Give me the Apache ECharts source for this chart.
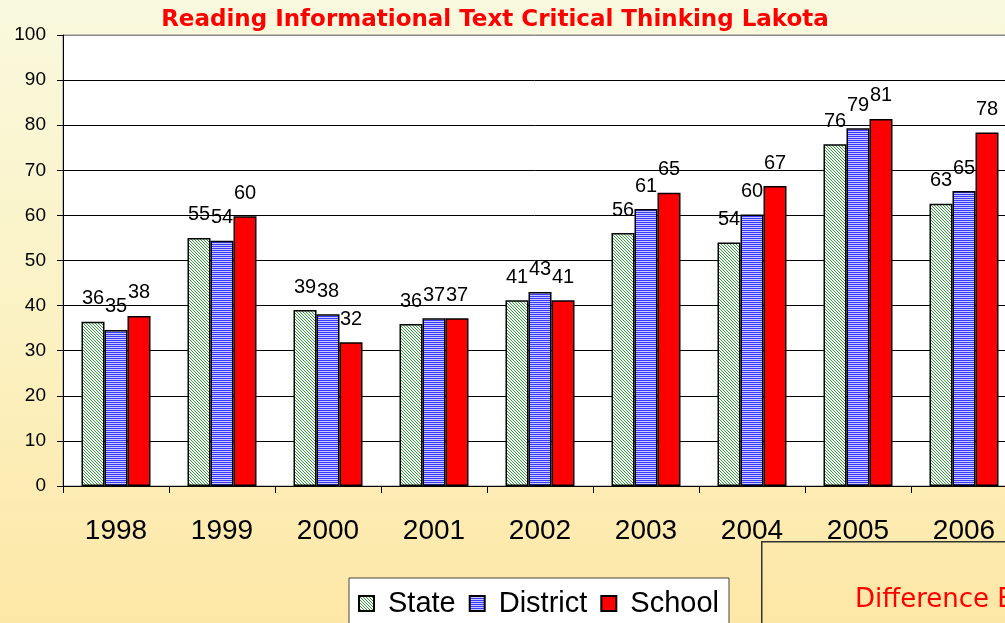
<!DOCTYPE html>
<html>
<head>
<meta charset="utf-8">
<script src="https://cdn.jsdelivr.net/npm/echarts@6/dist/echarts.min.js"></script>
<style>
html,body{margin:0;padding:0;}
#chart{width:1005px;height:623px;background:linear-gradient(to bottom,#f9f9de 0%,#fbf2c4 50%,#fde7a6 100%);}
</style>
</head>
<body>
<div id="chart"></div>
<script>
const categories = ['1998','1999','2000','2001','2002','2003','2004','2005','2006'];
const stateValues    = [36.4, 55.0, 39.0, 35.9, 41.2, 56.1, 54.0, 75.8, 62.6];
const districtValues = [34.6, 54.4, 38.1, 37.2, 43.0, 61.4, 60.2, 79.3, 65.4];
const schoolValues   = [37.7, 59.8, 31.9, 37.2, 41.2, 65.0, 66.5, 81.4, 78.4];
const seriesNames = ['State','District','School'];
const yTicks = {min: 0, max: 100, interval: 10};
const titleText = 'Reading Informational Text Critical Thinking Lakota';
const boxText = 'Difference B';

const FONT = '"Liberation Sans", Arimo, Arial, sans-serif';
const TFONT = '"Comic Sans MS", "DejaVu Sans", sans-serif';

function makePattern(kind){
  const c = document.createElement('canvas');
  if(kind === 'diag'){
    c.width = 3; c.height = 3;
    const g = c.getContext('2d');
    g.fillStyle = '#ffffff'; g.fillRect(0,0,3,3);
    g.fillStyle = '#2f9e3a';
    for(let i=0;i<3;i++){ g.fillRect(i,i,1,1); }
  } else {
    c.width = 2; c.height = 2;
    const g = c.getContext('2d');
    g.fillStyle = '#c8c8ff'; g.fillRect(0,0,2,2);
    g.fillStyle = '#3a3aff'; g.fillRect(0,0,2,1);
  }
  return {image: c, repeat: 'repeat'};
}

const chart = echarts.init(document.getElementById('chart'), null, {renderer:'canvas'});
const lbl = {
  show: true, position: 'top', distance: 13,
  fontFamily: FONT, fontSize: 20, color: '#000',
  formatter: p => Math.round(p.value)
};
const border = {borderColor:'#000', borderWidth:1.5};
const splitColors = [];
for(let v = yTicks.min; v <= yTicks.max; v += yTicks.interval){ splitColors.push(v === yTicks.max ? '#8a8a8a' : '#000'); }

chart.setOption({
  backgroundColor: 'transparent',
  animation: false,
  textStyle: {fontFamily: FONT},
  title: {
    text: titleText, left: 490, top: 4, textAlign: 'center',
    textStyle: {color:'#ff0000', fontWeight:'bold', fontSize: 23, fontFamily: TFONT}
  },
  grid: {left: 63, width: 954, top: 35, height: 451, outerBoundsMode: 'none', containLabel: false,
         show: true, backgroundColor: '#ffffff', borderColor: '#8a8a8a', borderWidth: 1},
  legend: {
    data: seriesNames, left: 349, top: 578, orient: 'horizontal',
    backgroundColor: '#ffffff', borderColor: '#444', borderWidth: 1,
    padding: [11, 10, 40, 9], itemGap: 13, itemWidth: 15, itemHeight: 15,
    textStyle: {fontFamily: FONT, fontSize: 29, color: '#000', padding: [0,0,0,9]},
    icon: 'rect'
  },
  xAxis: {
    type: 'category', data: categories,
    axisLine: {lineStyle: {color:'#000', width: 1}},
    axisTick: {show: true, length: 7, lineStyle: {color:'#000'}},
    axisLabel: {fontFamily: FONT, fontSize: 28, color: '#000', margin: 31}
  },
  yAxis: {
    type: 'value', min: yTicks.min, max: yTicks.max, interval: yTicks.interval,
    axisLine: {show: true, lineStyle: {color:'#000', width: 1}},
    axisTick: {show: true, length: 6, lineStyle: {color:'#000'}},
    axisLabel: {fontFamily: FONT, fontSize: 19, color: '#000', margin: 17},
    splitLine: {show: true, lineStyle: {color: splitColors, width: 1}}
  },
  series: [
    {name: seriesNames[0], type: 'bar', data: stateValues, barWidth: 23, barGap: '0%',
     itemStyle: Object.assign({color: makePattern('diag')}, border), label: lbl},
    {name: seriesNames[1], type: 'bar', data: districtValues, barWidth: 23, barGap: '0%',
     itemStyle: Object.assign({color: makePattern('horiz')}, border), label: lbl},
    {name: seriesNames[2], type: 'bar', data: schoolValues, barWidth: 23, barGap: '0%',
     itemStyle: Object.assign({color: '#ff0000'}, border), label: lbl}
  ],
  graphic: [
    {type: 'rect', left: 761, top: 541, shape: {width: 400, height: 200},
     style: {fill: 'transparent', stroke: '#333', lineWidth: 1.5}, z: 100},
    {type: 'text', left: 855, top: 587, z: 101,
     style: {text: boxText, fill: '#ff0000', fontSize: 26, fontFamily: TFONT}}
  ]
});
</script>
</body>
</html>
